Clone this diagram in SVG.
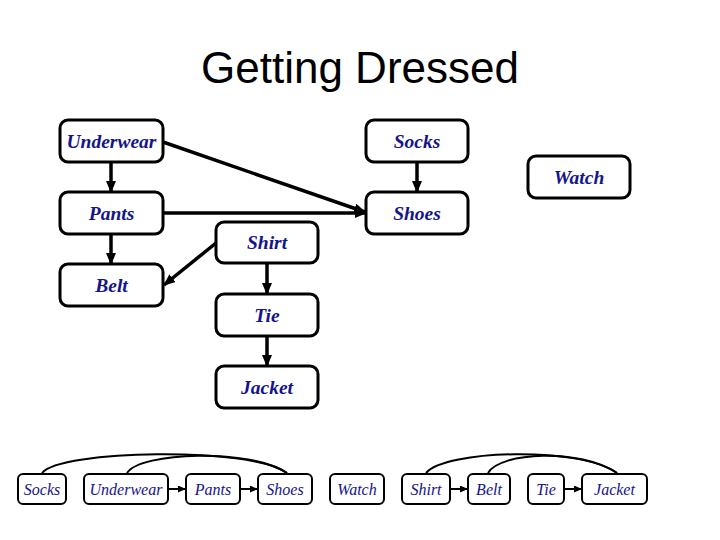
<svg xmlns="http://www.w3.org/2000/svg" width="720" height="540" viewBox="0 0 720 540">
<defs>
<style>
.n rect{fill:#fff;stroke:#000;stroke-width:3}
.n text{font-family:"Liberation Serif",serif;font-style:italic;font-weight:bold;font-size:19.5px;fill:#14148c;text-anchor:middle}
.s rect{fill:#fff;stroke:#000;stroke-width:2}
.s text{font-family:"Liberation Serif",serif;font-style:italic;font-size:16px;fill:#14148c;text-anchor:middle}
.c path{fill:none;stroke:#000;stroke-width:3.5}
.c2 path{fill:none;stroke:#000;stroke-width:2}
</style>
<marker id="a" markerUnits="userSpaceOnUse" markerWidth="12" markerHeight="10" refX="11" refY="5" orient="auto"><path d="M0,0 L12,5 L0,10 Z" fill="#000"/></marker>
<marker id="b" markerUnits="userSpaceOnUse" markerWidth="8" markerHeight="7" refX="8" refY="3.5" orient="auto"><path d="M0,0 L8,3.5 L0,7 Z" fill="#000"/></marker>
</defs>
<rect width="720" height="540" fill="#fff"/>
<text x="360" y="83" font-family="Liberation Sans,Arial,sans-serif" font-size="44" text-anchor="middle" fill="#000">Getting Dressed</text>
<g class="c">
<path d="M111,162 L111,192" marker-end="url(#a)"/>
<path d="M417,162 L417,192" marker-end="url(#a)"/>
<path d="M163,142 L365,212" marker-end="url(#a)"/>
<path d="M163,213 L366,213" marker-end="url(#a)"/>
<path d="M111,234 L111,264" marker-end="url(#a)"/>
<path d="M216,243 L164,285" marker-end="url(#a)"/>
<path d="M267,263 L267,294" marker-end="url(#a)"/>
<path d="M267,336 L267,366" marker-end="url(#a)"/>
</g>
<g id="underwear" class="n"><rect x="60" y="120" width="103" height="42" rx="8"/><text x="111.5" y="147.5">Underwear</text></g>
<g id="socks" class="n"><rect x="366" y="120" width="102" height="42" rx="8"/><text x="417" y="147.5">Socks</text></g>
<g id="watch" class="n"><rect x="528" y="156" width="102" height="42" rx="8"/><text x="579" y="183.5">Watch</text></g>
<g id="pants" class="n"><rect x="60" y="192" width="103" height="42" rx="8"/><text x="111.5" y="219.5">Pants</text></g>
<g id="shoes" class="n"><rect x="366" y="192" width="102" height="42" rx="8"/><text x="417" y="219.5">Shoes</text></g>
<g id="shirt" class="n"><rect x="216" y="222" width="102" height="41" rx="8"/><text x="267" y="249">Shirt</text></g>
<g id="belt" class="n"><rect x="60" y="264" width="103" height="42" rx="8"/><text x="111.5" y="291.5">Belt</text></g>
<g id="tie" class="n"><rect x="216" y="294" width="102" height="42" rx="8"/><text x="267" y="321.5">Tie</text></g>
<g id="jacket" class="n"><rect x="216" y="366" width="102" height="42" rx="8"/><text x="267" y="393.5">Jacket</text></g>
<g class="c2">
<path d="M168,489 L186,489" marker-end="url(#b)"/>
<path d="M240,489 L258,489" marker-end="url(#b)"/>
<path d="M450,489 L468,489" marker-end="url(#b)"/>
<path d="M564,489 L582,489" marker-end="url(#b)"/>
<path d="M42,473 C60,450 250,446 287,473"/>
<path d="M127,473 C140,452 250,448 287,473"/>
<path d="M426,473 C445,450 580,446 617,473"/>
<path d="M488,473 C500,452 580,448 617,473"/>
</g>
<g id="b-socks" class="s"><rect x="18" y="474" width="48" height="30" rx="5"/><text x="42" y="494.5">Socks</text></g>
<g id="b-underwear" class="s"><rect x="84" y="474" width="84" height="30" rx="5"/><text x="126" y="494.5">Underwear</text></g>
<g id="b-pants" class="s"><rect x="186" y="474" width="54" height="30" rx="5"/><text x="213" y="494.5">Pants</text></g>
<g id="b-shoes" class="s"><rect x="258" y="474" width="54" height="30" rx="5"/><text x="285" y="494.5">Shoes</text></g>
<g id="b-watch" class="s"><rect x="330" y="474" width="54" height="30" rx="5"/><text x="357" y="494.5">Watch</text></g>
<g id="b-shirt" class="s"><rect x="402" y="474" width="48" height="30" rx="5"/><text x="426" y="494.5">Shirt</text></g>
<g id="b-belt" class="s"><rect x="468" y="474" width="42" height="30" rx="5"/><text x="489" y="494.5">Belt</text></g>
<g id="b-tie" class="s"><rect x="528" y="474" width="36" height="30" rx="5"/><text x="546" y="494.5">Tie</text></g>
<g id="b-jacket" class="s"><rect x="582" y="474" width="65" height="30" rx="5"/><text x="614.5" y="494.5">Jacket</text></g>
</svg>
